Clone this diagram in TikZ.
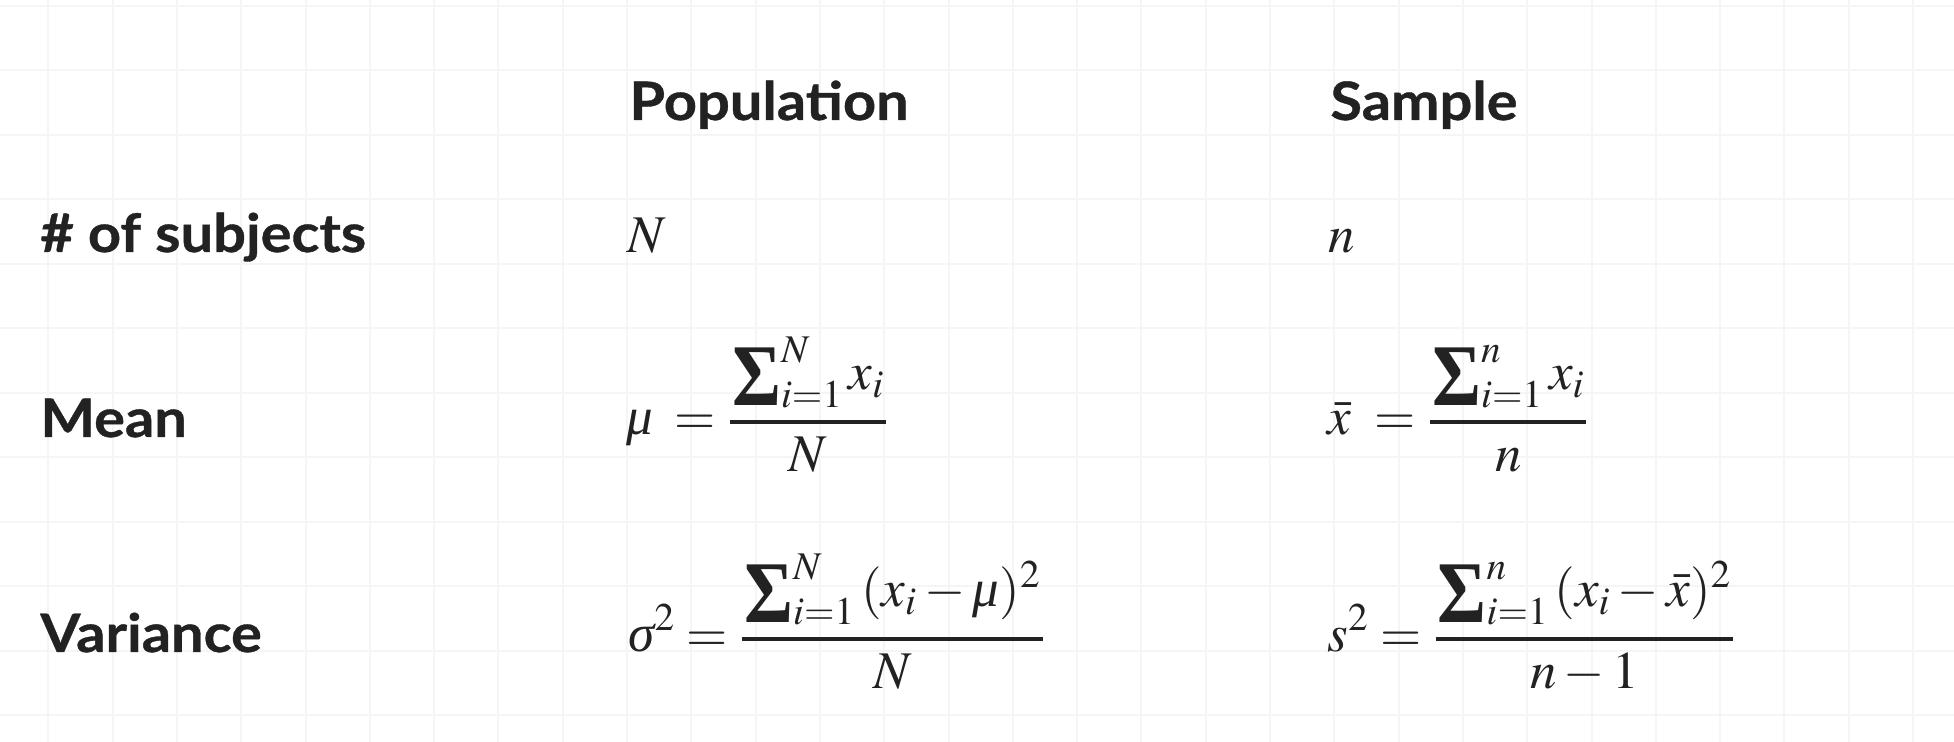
\documentclass[tikz,border=0pt]{standalone}
\usepackage{amsmath}
\usepackage{mathptmx}
\usepackage{graphicx}
\usepackage[no-math]{fontspec}
\newfontfamily\headfont{Lato}[FakeStretch=1.09,FakeBold=0.7]
\newfontfamily\tnr{Liberation Serif}
\definecolor{ink}{HTML}{222222}
\definecolor{gridc}{HTML}{F4F5F7}
\newcommand\myfrac[2]{\genfrac{}{}{2pt}{0}{\kern1pt#1\kern1pt}{#2}}
\newcommand\bigsig{\mathop{\vcenter{\hbox{\tnr\bfseries\fontsize{44}{44}\selectfont\scalebox{0.85}[1]{Σ}}}}\nolimits}
\newcommand\gmu{\mathord{\hbox{\tnr\itshape μ}}}
\newcommand\gsig{\mathord{\hbox{\tnr\itshape σ}}}
\begin{document}
\begin{tikzpicture}[x=0.5pt,y=-0.5pt,
  lbl/.style={anchor=base west, inner sep=0, font=\headfont\bfseries\fontsize{26.5}{30}\selectfont, text=ink},
  mth/.style={anchor=base west, inner sep=0, font=\fontsize{26.5}{30}\selectfont, text=ink},
  gridline/.style={draw=gridc, line width=1pt}]
\useasboundingbox (0,0) rectangle (1954,742);
\fill[white] (0,0) rectangle (1954,742);
\foreach \k in {0,...,29} \draw[gridline] ({48.3+64.3*\k},0) -- ({48.3+64.3*\k},742);
\foreach \k in {0,...,11} \draw[gridline] (0,{6+64.45*\k}) -- (1954,{6+64.45*\k});
\node[lbl] (hpop) at (629,120) {Population};
\node[lbl] (hsam) at (1330,120) {Sample};
\node[lbl] (lsub) at (40,252) {\# of subjects};
\node[lbl] (lmean) at (40,437) {Mean};
\node[lbl] (lvar) at (40,652) {Variance};
\node[mth] (pN) at (627,253) {$N$};
\node[mth] (sn) at (1328,253) {$n$};
\node[mth] (pmean) at (626,435) {$\displaystyle \gmu\kern5pt = \myfrac{\bigsig_{i=1}^{N} x_i}{N}$};
\node[mth] (smean) at (1327,435) {$\displaystyle \bar{x}\kern6pt = \myfrac{\bigsig_{i=1}^{n} x_i}{n}$};
\node[mth] (pvar) at (628,652) {$\displaystyle \gsig^2 = \myfrac{\bigsig_{i=1}^{N}\, (x_i-\gmu)^2}{N}$};
\node[mth] (svar) at (1327,652) {$\displaystyle s^2 = \myfrac{\bigsig_{i=1}^{n}\, (x_i-\bar{x})^2}{n-1}$};
\end{tikzpicture}
\end{document}
